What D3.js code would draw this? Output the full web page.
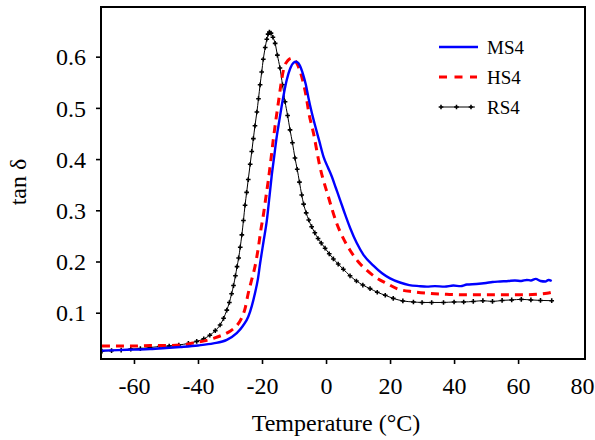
<!DOCTYPE html>
<html>
<head>
<meta charset="utf-8">
<script src="https://cdn.jsdelivr.net/npm/d3@7"></script>
<style>
  html, body { margin: 0; padding: 0; background: #fff; }
  svg { display: block; }
  text { font-family: "Liberation Serif", "Times New Roman", serif; fill: #000; }
</style>
</head>
<body>
<svg id="chart" width="595" height="440"></svg>
<script>
// ---- Data ----
const seriesNames = ["MS4", "HS4", "RS4"];
const xTicks = [-60, -40, -20, 0, 20, 40, 60, 80];
const yTicks = [0.1, 0.2, 0.3, 0.4, 0.5, 0.6];

const ms4T = [-70, -65, -60, -55, -50, -45.6, -40, -35.2, -31, -27.9, -26, -24.3, -23.2, -22.2, -21.3, -20.6, -19.5, -18.5, -17.7, -17.0, -16.2, -15.4, -14.6, -13.9, -13.1, -12.3, -11.2, -10.2, -9.4, -8.3, -7.2, -6.3, -5.5, -4.5, -3.4, -2.1, -0.8, 0.5, 1.8, 3.1, 4.4, 5.9, 7.5, 9.6, 11.7, 14.8, 17.5, 20, 23.1, 26, 29, 31.5, 34, 37, 39.8, 42, 44, 47, 50, 52, 54.4, 57, 59, 61, 62.7, 64, 65.5, 67, 68.5, 69.5, 70.5];
const ms4V = [0.026, 0.027, 0.028, 0.029, 0.031, 0.033, 0.036, 0.040, 0.047, 0.060, 0.074, 0.092, 0.113, 0.138, 0.165, 0.196, 0.240, 0.280, 0.325, 0.366, 0.405, 0.444, 0.475, 0.502, 0.530, 0.554, 0.577, 0.588, 0.590, 0.584, 0.566, 0.545, 0.520, 0.492, 0.465, 0.435, 0.405, 0.385, 0.366, 0.343, 0.320, 0.293, 0.266, 0.236, 0.213, 0.192, 0.177, 0.167, 0.159, 0.154, 0.152, 0.151, 0.152, 0.151, 0.153, 0.152, 0.155, 0.156, 0.158, 0.160, 0.161, 0.162, 0.163, 0.162, 0.164, 0.163, 0.166, 0.162, 0.161, 0.164, 0.162];

const hs4T = [-70, -65, -60, -55, -50, -45, -41.5, -38, -35.2, -32.5, -30, -28, -26.5, -25.3, -24.3, -23.2, -22.2, -21.2, -20.4, -19.6, -18.8, -18.0, -17.2, -16.5, -15.7, -14.9, -14.1, -13.3, -12.0, -10.7, -9.2, -7.6, -6.0, -5.5, -3.9, -1.9, 0.7, 3.3, 5.4, 7.5, 10, 12.7, 15.8, 19, 22.6, 27.3, 32, 37.7, 43, 48.1, 53, 58.5, 63, 66, 69, 70.5];
const hs4V = [0.035, 0.035, 0.035, 0.036, 0.036, 0.037, 0.041, 0.045, 0.050, 0.056, 0.064, 0.074, 0.088, 0.108, 0.138, 0.165, 0.190, 0.225, 0.260, 0.290, 0.325, 0.360, 0.400, 0.437, 0.475, 0.510, 0.545, 0.574, 0.592, 0.597, 0.588, 0.561, 0.515, 0.495, 0.450, 0.385, 0.327, 0.275, 0.245, 0.222, 0.200, 0.183, 0.168, 0.157, 0.146, 0.141, 0.138, 0.136, 0.135, 0.135, 0.135, 0.135, 0.135, 0.136, 0.138, 0.140];

const rs4T = [-70, -67, -64, -61, -58, -55, -52, -49, -46, -43, -40.4, -38.2, -36.3, -34.6, -33.1, -32, -31, -30.2, -29.5, -28.9, -28.3, -27.8, -27.3, -26.8, -26.3, -25.8, -25.3, -24.8, -24.3, -23.7, -23.2, -22.7, -22.2, -21.6, -21.1, -20.6, -20.1, -19.6, -19.0, -18.5, -18.1, -17.7, -17.2, -16.6, -15.9, -15.2, -14.4, -13.6, -12.8, -12.0, -11.25, -10.5, -9.7, -9.0, -8.3, -7.6, -7.0, -6.2, -5.4, -4.5, -3.5, -2.5, -1.5, -0.3, 1, 2.3, 3.8, 5.4, 7.5, 9.5, 11.5, 13.75, 16, 18.5, 21, 24, 27.3, 30, 33, 36.7, 40, 43, 46, 49, 52, 55, 58, 61, 64, 67, 70.5];
const rs4V = [0.025, 0.026, 0.027, 0.029, 0.030, 0.032, 0.034, 0.035, 0.037, 0.040, 0.044, 0.049, 0.056, 0.065, 0.076, 0.089, 0.105, 0.120, 0.137, 0.153, 0.172, 0.190, 0.207, 0.228, 0.252, 0.280, 0.310, 0.335, 0.360, 0.390, 0.415, 0.440, 0.465, 0.492, 0.518, 0.545, 0.570, 0.595, 0.618, 0.634, 0.644, 0.648, 0.646, 0.638, 0.626, 0.603, 0.578, 0.545, 0.512, 0.485, 0.457, 0.432, 0.402, 0.380, 0.355, 0.330, 0.312, 0.295, 0.281, 0.268, 0.256, 0.245, 0.236, 0.226, 0.215, 0.205, 0.195, 0.185, 0.172, 0.162, 0.154, 0.147, 0.140, 0.134, 0.128, 0.123, 0.121, 0.120, 0.120, 0.120, 0.121, 0.121, 0.122, 0.1235, 0.122, 0.124, 0.125, 0.126, 0.125, 0.124, 0.1235];

// ---- Layout ----
const svg = d3.select("#chart");
const plot = { left: 101, right: 585, top: 7, bottom: 359 };

const x = d3.scaleLinear().domain([-70.3, 80.9]).range([plot.left, plot.right]);
const y = d3.scaleLinear().domain([0.0096, 0.697]).range([plot.bottom, plot.top]);

const zip = (ts, vs) => ts.map((t, i) => ({ t, v: vs[i] }));
const ms4 = zip(ms4T, ms4V), hs4 = zip(hs4T, hs4V), rs4 = zip(rs4T, rs4V);

const line = d3.line().x(d => x(d.t)).y(d => y(d.v)).curve(d3.curveMonotoneX);

svg.append("clipPath").attr("id", "clip").append("rect")
  .attr("x", plot.left).attr("y", plot.top)
  .attr("width", plot.right - plot.left).attr("height", plot.bottom - plot.top);

const g = svg.append("g").attr("clip-path", "url(#clip)");

g.append("path").datum(rs4).attr("d", line)
  .attr("fill", "none").attr("stroke", "#000").attr("stroke-width", 1);
const cross = d3.symbol().type(d3.symbolCross).size(12);
g.selectAll("path.rsm").data(rs4).join("path").attr("class", "rsm")
  .attr("d", cross).attr("transform", d => `translate(${x(d.t)},${y(d.v)})`)
  .attr("fill", "#000");

g.append("path").datum(hs4).attr("d", line)
  .attr("fill", "none").attr("stroke", "#ff0000").attr("stroke-width", 3)
  .attr("stroke-dasharray", "8,6");

g.append("path").datum(ms4).attr("d", line)
  .attr("fill", "none").attr("stroke", "#0000ff").attr("stroke-width", 2.4);

// ---- Axes ----
const xAxis = d3.axisBottom(x).tickValues(xTicks).tickSize(5).tickPadding(8)
  .tickFormat(d => String(d));
const gx = svg.append("g").attr("transform", `translate(0,${plot.bottom})`).call(xAxis);
gx.select(".domain").remove();
gx.selectAll(".tick line").attr("stroke", "#000").attr("stroke-width", 1.6)
  .filter(d => d === 80).remove();
gx.selectAll(".tick text").attr("font-size", 24).attr("font-family", "Liberation Serif")
  .attr("dy", null).attr("y", 35);

const yAxis = d3.axisLeft(y).tickValues(yTicks).tickSize(5).tickPadding(10)
  .tickFormat(d3.format(".1f"));
const gy = svg.append("g").attr("transform", `translate(${plot.left},0)`).call(yAxis);
gy.select(".domain").remove();
gy.selectAll(".tick line").attr("stroke", "#000").attr("stroke-width", 1.6);
gy.selectAll(".tick text").attr("font-size", 24).attr("font-family", "Liberation Serif")
  .attr("dy", "0.34em");

// frame
svg.append("rect").attr("x", plot.left).attr("y", plot.top)
  .attr("width", plot.right - plot.left).attr("height", plot.bottom - plot.top)
  .attr("fill", "none").attr("stroke", "#000").attr("stroke-width", 2);

// axis titles
svg.append("text").attr("x", 336).attr("y", 431).attr("text-anchor", "middle")
  .attr("font-size", 24).text("Temperature (°C)");
svg.append("text").attr("transform", "translate(26,182) rotate(-90)")
  .attr("text-anchor", "middle").attr("font-size", 24).text("tan δ");

// ---- Legend ----
const legY = [47, 77, 107];
const lg = svg.append("g");
lg.append("line").attr("x1", 439).attr("x2", 478).attr("y1", legY[0]).attr("y2", legY[0])
  .attr("stroke", "#0000ff").attr("stroke-width", 2.4);
lg.append("line").attr("x1", 439).attr("x2", 477).attr("y1", legY[1]).attr("y2", legY[1])
  .attr("stroke", "#ff0000").attr("stroke-width", 3).attr("stroke-dasharray", "8,7.5");
lg.append("line").attr("x1", 441).attr("x2", 475).attr("y1", legY[2]).attr("y2", legY[2])
  .attr("stroke", "#000").attr("stroke-width", 1);
[441, 456.5, 471].forEach(px => {
  lg.append("path").attr("d", cross).attr("transform", `translate(${px},${legY[2]})`).attr("fill", "#000");
});
seriesNames.forEach((n, i) => {
  lg.append("text").attr("x", 487).attr("y", legY[i] + 7).attr("font-size", 19).text(n);
});
</script>
</body>
</html>
